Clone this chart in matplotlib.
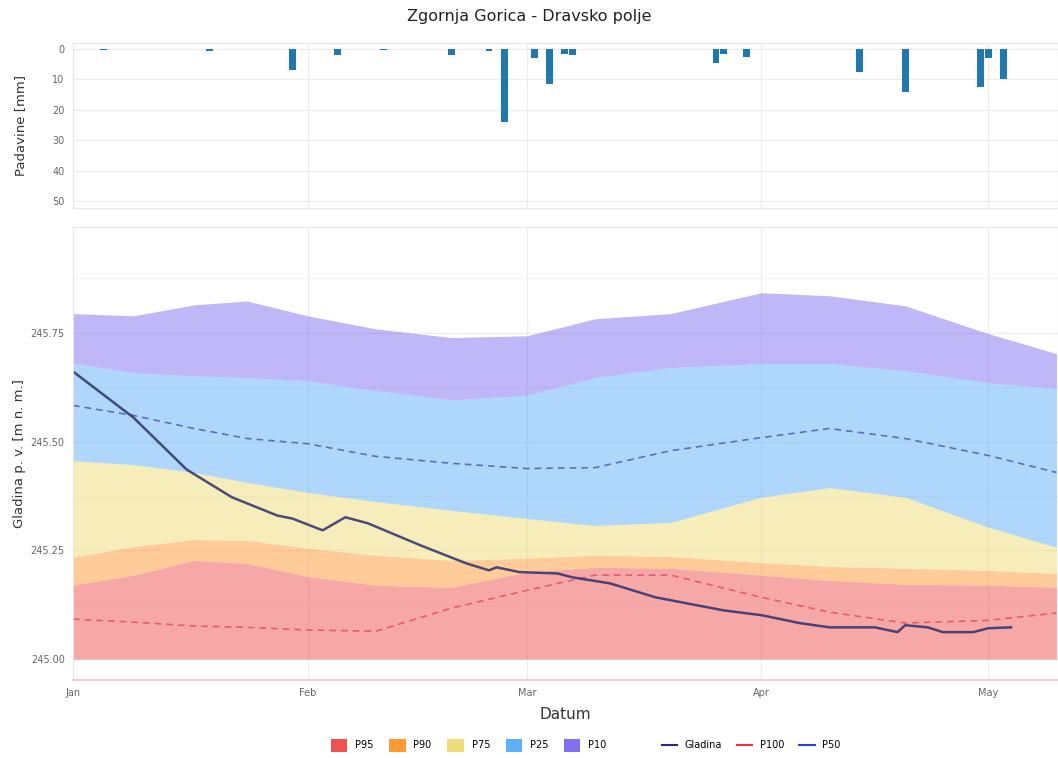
# -*- coding: utf-8 -*-

# Zgornja Gorica - Dravsko polje: padavine in gladina podtalnice

import numpy as np
import matplotlib.pyplot as plt
import matplotlib.dates as mdates
from matplotlib.patches import Patch
from matplotlib.lines import Line2D

# padavine [mm]
dez_dni = np.array(['2024-01-05', '2024-01-19', '2024-01-30', '2024-02-05', '2024-02-11',
                    '2024-02-20', '2024-02-25', '2024-02-27', '2024-03-02', '2024-03-04',
                    '2024-03-06', '2024-03-07', '2024-03-26', '2024-03-27', '2024-03-30',
                    '2024-04-14', '2024-04-20', '2024-04-30', '2024-05-01', '2024-05-03'],
                   dtype='datetime64[D]')
dez = np.array([0.3, 0.5, 7.0, 2.0, 0.3, 2.0, 0.5, 24.0, 3.0, 11.5,
                1.5, 2.0, 4.5, 1.5, 2.5, 7.5, 14.0, 12.5, 3.0, 10.0])

# percentilni pasovi [m n. m.]
dni = np.array(['2024-01-01', '2024-01-09', '2024-01-17', '2024-01-24', '2024-02-01',
                '2024-02-10', '2024-02-20', '2024-03-01', '2024-03-10', '2024-03-20',
                '2024-04-01', '2024-04-10', '2024-04-20', '2024-05-01', '2024-05-10'],
               dtype='datetime64[D]')
p10 = np.array([245.794, 245.789, 245.814, 245.823, 245.789, 245.759, 245.739, 245.743,
                245.782, 245.794, 245.842, 245.835, 245.812, 245.748, 245.702])
p25 = np.array([245.681, 245.658, 245.651, 245.647, 245.640, 245.617, 245.596, 245.606,
                245.647, 245.670, 245.679, 245.679, 245.663, 245.635, 245.622])
p75 = np.array([245.456, 245.447, 245.429, 245.406, 245.383, 245.362, 245.342, 245.323,
                245.307, 245.314, 245.372, 245.394, 245.372, 245.303, 245.257])
p90 = np.array([245.234, 245.259, 245.275, 245.273, 245.255, 245.239, 245.227, 245.232,
                245.239, 245.236, 245.222, 245.213, 245.209, 245.204, 245.197])
p95 = np.array([245.170, 245.193, 245.227, 245.220, 245.190, 245.170, 245.165, 245.200,
                245.211, 245.209, 245.193, 245.181, 245.172, 245.170, 245.165])
p50 = np.array([245.583, 245.560, 245.530, 245.507, 245.495, 245.466, 245.450, 245.438,
                245.440, 245.479, 245.509, 245.530, 245.507, 245.468, 245.429])
p100 = np.array([245.092, 245.085, 245.076, 245.073, 245.067, 245.064, 245.117, 245.158,
                 245.193, 245.193, 245.142, 245.108, 245.083, 245.089, 245.106])
dno = 245.00

# izmerjena gladina
gl_dni = np.array(['2024-01-01', '2024-01-09', '2024-01-16', '2024-01-22', '2024-01-28',
                   '2024-01-30', '2024-02-03', '2024-02-06', '2024-02-09', '2024-02-16',
                   '2024-02-22', '2024-02-25', '2024-02-26', '2024-02-29', '2024-03-05',
                   '2024-03-07', '2024-03-12', '2024-03-18', '2024-03-27', '2024-04-01',
                   '2024-04-06', '2024-04-10', '2024-04-16', '2024-04-19', '2024-04-20',
                   '2024-04-23', '2024-04-25', '2024-04-29', '2024-05-01', '2024-05-04'],
                  dtype='datetime64[D]')
gladina = np.array([245.661, 245.555, 245.436, 245.372, 245.330, 245.323, 245.296, 245.326,
                    245.312, 245.261, 245.220, 245.204, 245.211, 245.200, 245.197, 245.188,
                    245.174, 245.142, 245.112, 245.101, 245.083, 245.073, 245.073, 245.062,
                    245.078, 245.073, 245.062, 245.062, 245.071, 245.073])

barve = {'P95': '#ef5350', 'P90': '#ff9933', 'P75': '#f0dc78',
         'P25': '#60b0f8', 'P10': '#8070f0'}

fig = plt.figure(figsize=(10.58, 7.58), dpi=100)
ax1 = fig.add_axes([0.069, 0.7256, 0.931, 0.2177])
ax2 = fig.add_axes([0.069, 0.1029, 0.931, 0.5976], sharex=ax1)

xmin = np.datetime64('2024-01-01')
xmax = np.datetime64('2024-05-10T05:00')

# padavine
ax1.bar(dez_dni, dez, width=0.9, color='#1f78b0')
ax1.set_ylim(52.3, -2)
ax1.set_yticks([0, 10, 20, 30, 40, 50])
ax1.set_ylabel('Padavine [mm]', fontsize=9.5, color='#333333', labelpad=18)
ax1.tick_params(labelbottom=False)

# pasovi
ax2.fill_between(dni, dno, p95, color=barve['P95'], alpha=0.5, lw=0)
ax2.fill_between(dni, p95, p90, color=barve['P90'], alpha=0.5, lw=0)
ax2.fill_between(dni, p90, p75, color=barve['P75'], alpha=0.5, lw=0)
ax2.fill_between(dni, p75, p25, color=barve['P25'], alpha=0.5, lw=0)
ax2.fill_between(dni, p25, p10, color=barve['P10'], alpha=0.5, lw=0)
ax2.plot(dni, p50, color='#4a5fb0', lw=1.2, ls=(0, (4, 3)), alpha=0.85)
ax2.plot(dni, p100, color='#e0506a', lw=1.2, ls=(0, (4, 3)), alpha=0.85)
ax2.plot(gl_dni, gladina, color='#2c2f6e', lw=1.8, alpha=0.85)

ax2.set_ylim(244.952, 245.993)
ax2.set_yticks([245.00, 245.25, 245.50, 245.75])
ax2.set_yticks([245.125, 245.375, 245.625, 245.875], minor=True)
ax2.yaxis.set_major_formatter(plt.FormatStrFormatter('%.2f'))
ax2.set_ylabel('Gladina p. v. [m n. m.]', fontsize=9.5, color='#333333', labelpad=3)
ax2.set_xlabel('Datum', fontsize=11, color='#333333', labelpad=6)
ax2.set_xlim(xmin, xmax)
ax2.xaxis.set_major_locator(mdates.MonthLocator())
ax2.xaxis.set_major_formatter(mdates.DateFormatter('%b'))

for ax in (ax1, ax2):
    ax.set_axisbelow(True)
    ax.grid(True, which='major', color='#ebebeb', lw=0.8)
    ax.grid(True, which='minor', axis='y', color='#f2f2f2', lw=0.8)
    ax.tick_params(which='both', length=0, labelsize=7, colors='#666666', pad=6)
    for s in ax.spines.values():
        s.set_color('#e6e6e6')
ax2.spines['bottom'].set_color('#f4c4c8')
ax2.spines['bottom'].set_linewidth(1.2)

fig.suptitle('Zgornja Gorica - Dravsko polje', y=0.988, fontsize=11.5, color='#222222')

# legenda
ploskve = [Patch(facecolor=barve[k], label=k) for k in ['P95', 'P90', 'P75', 'P25', 'P10']]
crte = [Line2D([], [], color='#2b2b7a', lw=1.5, label='Gladina'),
        Line2D([], [], color='#e83040', lw=1.5, label='P100'),
        Line2D([], [], color='#3040d0', lw=1.5, label='P50')]
fig.legend(handles=ploskve, loc='center', bbox_to_anchor=(0.443, 0.017), ncol=5,
           frameon=False, fontsize=7, handlelength=1.7, handleheight=1.7,
           columnspacing=1.6, handletextpad=0.8)
fig.legend(handles=crte, loc='center', bbox_to_anchor=(0.71, 0.017), ncol=3,
           frameon=False, fontsize=7, handlelength=1.6, columnspacing=1.5,
           handletextpad=0.8)

fig.savefig('out.png', dpi=100)
